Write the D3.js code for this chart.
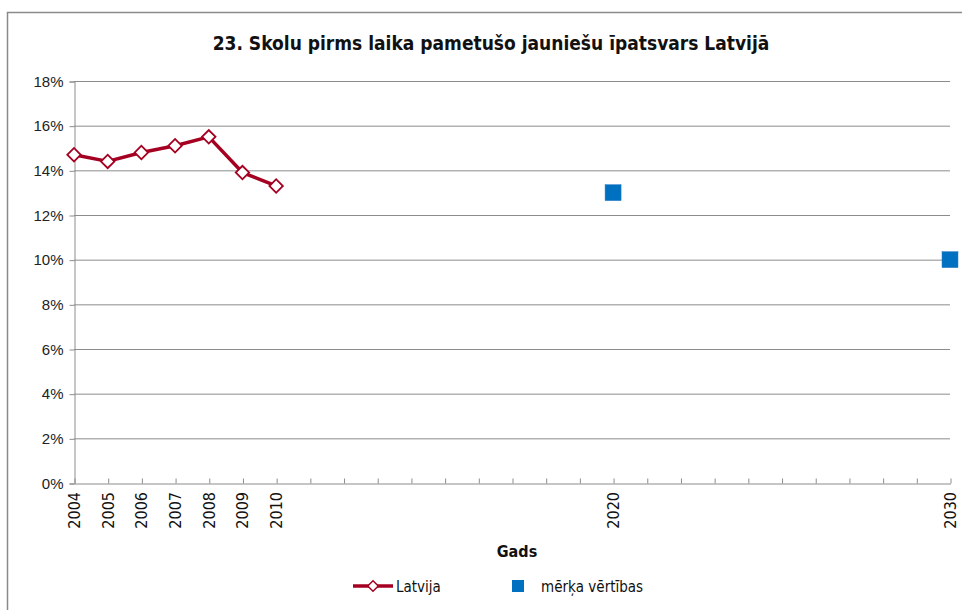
<html>
<head>
  <script src="https://d3js.org/d3.v7.min.js" charset="utf-8"></script>
  <title>Skolu pirms laika pametušo jauniešu īpatsvars</title>
  <style>
  body { margin: 0; background: #fff; }
  svg { display: block; }
  </style>
</head>
<body>
  <div id="chart"></div>
  <script>
  // data
  var years = [2004, 2005, 2006, 2007, 2008, 2009, 2010];
  var latvija = [14.7, 14.4, 14.8, 15.1, 15.5, 13.9, 13.3];
  var targetYears = [2020, 2030];
  var targets = [13, 10];
  var yTicks = [0, 2, 4, 6, 8, 10, 12, 14, 16, 18];
  var xLabels = [2004, 2005, 2006, 2007, 2008, 2009, 2010, 2020, 2030];

  var width = 962, height = 610;
  var narrow = "'Liberation Sans Narrow', 'DejaVu Sans Condensed', sans-serif";

  var svg = d3.select("#chart").append("svg")
    .attr("width", width).attr("height", height);

  // chart frame
  svg.append("rect").attr("x", 7.5).attr("y", 12.5)
    .attr("width", 980).attr("height", 620)
    .attr("fill", "none").attr("stroke", "#8a8a8a").attr("stroke-width", 1.5);

  var x = d3.scaleLinear().domain([2004, 2030]).range([74, 950]);
  var y = d3.scaleLinear().domain([0, 18]).range([483, 81]);

  // gridlines
  svg.selectAll(".grid").data(yTicks.slice(1)).enter()
    .append("line").attr("class", "grid")
    .attr("x1", 74).attr("x2", 950)
    .attr("y1", function(d) { return y(d) + 0.5; })
    .attr("y2", function(d) { return y(d) + 0.5; })
    .attr("stroke", "#8c8c8c").attr("stroke-width", 1);

  // y axis
  var yAxis = svg.append("g").attr("transform", "translate(74.5,0.5)")
    .call(d3.axisLeft(y).tickValues(yTicks).tickSize(5).tickPadding(6)
      .tickFormat(function(d) { return d + "%"; }));
  yAxis.select(".domain").attr("stroke", "#8c8c8c");
  yAxis.selectAll(".tick line").attr("stroke", "#8c8c8c");
  yAxis.selectAll("text").attr("fill", "#222")
    .style("font-family", "'Liberation Sans', Arial, sans-serif").style("font-size", "15px");

  // x axis, ticks every year pointing up
  var allYears = d3.range(2004, 2031);
  var xAxis = svg.append("g").attr("transform", "translate(0.5," + (y(0) + 0.5) + ")")
    .call(d3.axisBottom(x).tickValues(allYears).tickSize(-5).tickSizeOuter(0).tickFormat(""));
  xAxis.select(".domain").attr("stroke", "#8c8c8c");
  xAxis.selectAll(".tick line").attr("stroke", "#8c8c8c");

  svg.selectAll(".xlab").data(xLabels).enter()
    .append("text").attr("class", "xlab")
    .attr("transform", function(d) { return "translate(" + (x(d) + 6) + ",492) rotate(-90)"; })
    .attr("text-anchor", "end")
    .style("font-family", narrow).style("font-size", "16px").attr("fill", "#111")
    .text(function(d) { return d; });

  // title
  svg.append("text").attr("x", 491).attr("y", 50).attr("text-anchor", "middle")
    .style("font-family", narrow).style("font-size", "19px").style("font-weight", "bold")
    .attr("fill", "#111")
    .text("23. Skolu pirms laika pametušo jauniešu īpatsvars Latvijā");

  // axis title
  svg.append("text").attr("x", 517).attr("y", 557).attr("text-anchor", "middle")
    .style("font-family", narrow).style("font-size", "16px").style("font-weight", "bold")
    .attr("fill", "#111").text("Gads");

  // Latvija line
  var pts = years.map(function(d, i) { return [d, latvija[i]]; });
  var line = d3.line().x(function(d) { return x(d[0]); }).y(function(d) { return y(d[1]); });
  svg.append("path").datum(pts).attr("d", line)
    .attr("fill", "none").attr("stroke", "#a50021").attr("stroke-width", 3.5)
    .attr("stroke-linejoin", "round");

  var diamond = d3.symbol().type(d3.symbolSquare).size(90);
  svg.selectAll(".dot").data(pts).enter()
    .append("path").attr("class", "dot")
    .attr("d", diamond)
    .attr("transform", function(d) { return "translate(" + x(d[0]) + "," + y(d[1]) + ") rotate(45)"; })
    .attr("fill", "#fff").attr("stroke", "#a50021").attr("stroke-width", 1.8);

  // target squares
  var tpts = targetYears.map(function(d, i) { return [d, targets[i]]; });
  svg.selectAll(".target").data(tpts).enter()
    .append("rect").attr("class", "target")
    .attr("x", function(d) { return x(d[0]) - 8; })
    .attr("y", function(d) { return y(d[1]) - 8; })
    .attr("width", 16).attr("height", 16)
    .attr("fill", "#0070c0").attr("stroke", "#2f7fc8").attr("stroke-width", 0.5);

  // legend
  var lg = svg.append("g").attr("transform", "translate(0,586)");
  lg.append("line").attr("x1", 353).attr("x2", 393).attr("y1", 0).attr("y2", 0)
    .attr("stroke", "#a50021").attr("stroke-width", 3.5);
  lg.append("path").attr("d", d3.symbol().type(d3.symbolSquare).size(56))
    .attr("transform", "translate(373,0) rotate(45)")
    .attr("fill", "#fff").attr("stroke", "#a50021").attr("stroke-width", 1.5);
  lg.append("text").attr("x", 396).attr("y", 6)
    .style("font-family", narrow).style("font-size", "15px").attr("fill", "#111").text("Latvija");
  lg.append("rect").attr("x", 512).attr("y", -6).attr("width", 12).attr("height", 12)
    .attr("fill", "#0070c0");
  lg.append("text").attr("x", 541).attr("y", 6)
    .style("font-family", narrow).style("font-size", "15px").attr("fill", "#111").text("mērķa vērtības");
  </script>
</body>
</html>
